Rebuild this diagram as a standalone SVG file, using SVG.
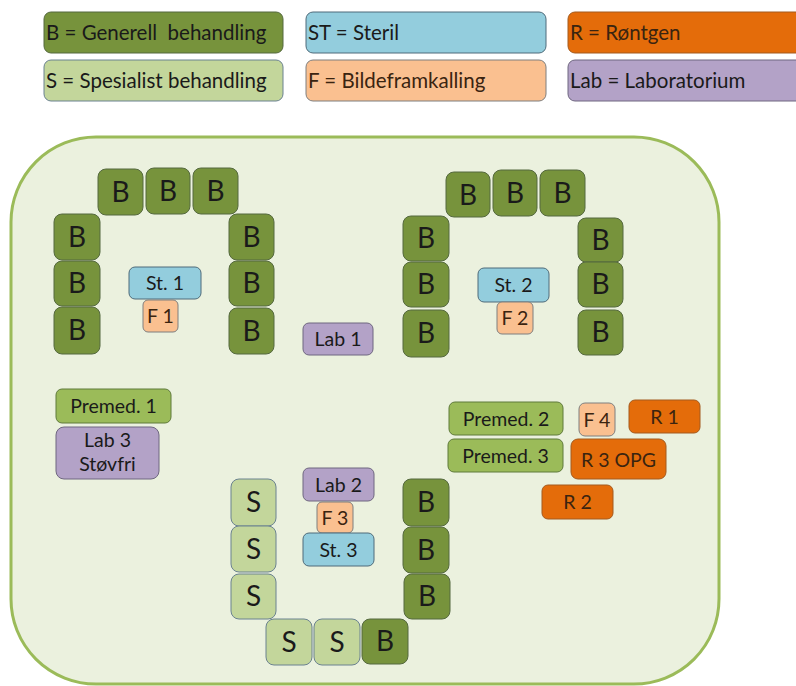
<svg xmlns="http://www.w3.org/2000/svg" width="796" height="686" viewBox="0 0 796 686">
<style>
  text { font-family: Lato, "Open Sans", "Liberation Sans", sans-serif; fill: #1a1a1a; }
  .lg { font-size: 20.5px; }
  .big { font-size: 28px; text-anchor: middle; }
  .sm { font-size: 19.5px; text-anchor: middle; }
  .br { fill: #3a2410; }
  .b { fill: #77933C; stroke: #55693f; stroke-width: 1; }
  .s { fill: #C3D69B; stroke: #6b8290; stroke-width: 1; }
  .st { fill: #93CDDD; stroke: #4f6b7a; stroke-width: 1; }
  .f { fill: #FAC090; stroke: #7f7f7f; stroke-width: 1; }
  .r { fill: #E46C0A; stroke: #a35a1e; stroke-width: 1; }
  .lab { fill: #B3A2C7; stroke: #6f6780; stroke-width: 1; }
  .pm { fill: #9BBB59; stroke: #5f7a3a; stroke-width: 1; }
</style>
<rect x="0" y="0" width="796" height="686" fill="#ffffff"/>

<g id="legend">
  <g id="leg-b"><rect class="b" x="44" y="12" width="239" height="41" rx="7"/><text class="lg" x="46" y="40" xml:space="preserve">B = Generell  behandling</text></g>
  <g id="leg-s"><rect class="s" x="44" y="60" width="239" height="41" rx="7"/><text class="lg" x="46" y="88">S = Spesialist behandling</text></g>
  <g id="leg-st"><rect class="st" x="306" y="12" width="240" height="41" rx="7"/><text class="lg" x="308" y="40">ST = Steril</text></g>
  <g id="leg-f"><rect class="f" x="306" y="60" width="240" height="41" rx="7"/><text class="lg br" x="308" y="88">F = Bildeframkalling</text></g>
  <g id="leg-r"><rect class="r" x="568" y="12" width="240" height="41" rx="7"/><text class="lg br" x="570" y="40">R = Røntgen</text></g>
  <g id="leg-lab"><rect class="lab" x="568" y="60" width="240" height="41" rx="7"/><text class="lg" x="570" y="88">Lab = Laboratorium</text></g>
</g>

<g id="room">
  <rect x="11" y="137" width="708" height="547" rx="85" ry="85" fill="#EBF1DE" stroke="#9BBB59" stroke-width="3"/>
</g>

<g id="cluster1">
  <g id="b1"><rect class="b" x="98" y="169" width="45" height="46" rx="8"/><text class="big" x="120.5" y="202">B</text></g>
  <g id="b2"><rect class="b" x="146" y="168" width="44" height="46" rx="8"/><text class="big" x="168" y="201">B</text></g>
  <g id="b3"><rect class="b" x="193" y="168" width="45" height="46" rx="8"/><text class="big" x="215.5" y="201">B</text></g>
  <g id="b4"><rect class="b" x="54" y="214" width="46" height="46" rx="8"/><text class="big" x="77" y="247">B</text></g>
  <g id="b5"><rect class="b" x="54" y="261" width="46" height="45" rx="8"/><text class="big" x="77" y="293">B</text></g>
  <g id="b6"><rect class="b" x="54" y="307" width="46" height="47" rx="8"/><text class="big" x="77" y="340">B</text></g>
  <g id="b7"><rect class="b" x="229" y="214" width="45" height="46" rx="8"/><text class="big" x="251.5" y="247">B</text></g>
  <g id="b8"><rect class="b" x="229" y="261" width="45" height="45" rx="8"/><text class="big" x="251.5" y="293">B</text></g>
  <g id="b9"><rect class="b" x="229" y="308" width="45" height="46" rx="8"/><text class="big" x="251.5" y="341">B</text></g>
  <g id="st1"><rect class="st" x="129" y="267" width="72" height="32" rx="6"/><text class="sm" x="165" y="290">St. 1</text></g>
  <g id="f1"><rect class="f" x="143" y="300" width="35" height="32" rx="5"/><text class="sm br" x="160.5" y="323">F 1</text></g>
</g>

<g id="lab1"><rect class="lab" x="303" y="323" width="70" height="32" rx="6"/><text class="sm" x="338" y="346">Lab 1</text></g>

<g id="cluster2">
  <g id="b10"><rect class="b" x="446" y="172" width="44" height="45" rx="8"/><text class="big" x="468" y="205">B</text></g>
  <g id="b11"><rect class="b" x="493" y="170" width="44" height="46" rx="8"/><text class="big" x="515" y="203">B</text></g>
  <g id="b12"><rect class="b" x="540" y="170" width="45" height="46" rx="8"/><text class="big" x="562.5" y="203">B</text></g>
  <g id="b13"><rect class="b" x="403" y="216" width="46" height="45" rx="8"/><text class="big" x="426" y="248">B</text></g>
  <g id="b14"><rect class="b" x="403" y="262" width="46" height="45" rx="8"/><text class="big" x="426" y="294">B</text></g>
  <g id="b15"><rect class="b" x="403" y="310" width="46" height="47" rx="8"/><text class="big" x="426" y="343">B</text></g>
  <g id="b16"><rect class="b" x="578" y="218" width="45" height="44" rx="8"/><text class="big" x="600.5" y="250">B</text></g>
  <g id="b17"><rect class="b" x="578" y="262" width="45" height="45" rx="8"/><text class="big" x="600.5" y="294">B</text></g>
  <g id="b18"><rect class="b" x="578" y="310" width="45" height="45" rx="8"/><text class="big" x="600.5" y="342">B</text></g>
  <g id="st2"><rect class="st" x="478" y="268" width="71" height="34" rx="6"/><text class="sm" x="513.5" y="292">St. 2</text></g>
  <g id="f2"><rect class="f" x="497" y="302" width="36" height="32" rx="5"/><text class="sm br" x="515" y="325">F 2</text></g>
</g>

<g id="premed1"><rect class="pm" x="56" y="389" width="115" height="34" rx="6"/><text class="sm" x="113.5" y="413">Premed. 1</text></g>
<g id="lab3"><rect class="lab" x="56" y="427" width="103" height="52" rx="8"/><text class="sm" x="107.5" y="447">Lab 3</text><text class="sm" x="107.5" y="471">Støvfri</text></g>

<g id="cluster3">
  <g id="s1"><rect class="s" x="231" y="479" width="45" height="47" rx="8"/><text class="big" x="253.5" y="512">S</text></g>
  <g id="s2"><rect class="s" x="231" y="526" width="45" height="46" rx="8"/><text class="big" x="253.5" y="559">S</text></g>
  <g id="s3"><rect class="s" x="231" y="574" width="45" height="45" rx="8"/><text class="big" x="253.5" y="606">S</text></g>
  <g id="s4"><rect class="s" x="266" y="619" width="46" height="46" rx="8"/><text class="big" x="289" y="652">S</text></g>
  <g id="s5"><rect class="s" x="314" y="619" width="46" height="46" rx="8"/><text class="big" x="337" y="652">S</text></g>
  <g id="b19"><rect class="b" x="362" y="619" width="46" height="45" rx="8"/><text class="big" x="385" y="651">B</text></g>
  <g id="b20"><rect class="b" x="403" y="479" width="46" height="47" rx="8"/><text class="big" x="426" y="512">B</text></g>
  <g id="b21"><rect class="b" x="403" y="527" width="46" height="46" rx="8"/><text class="big" x="426" y="560">B</text></g>
  <g id="b22"><rect class="b" x="404" y="574" width="46" height="45" rx="8"/><text class="big" x="427" y="606">B</text></g>
  <g id="lab2"><rect class="lab" x="303" y="468" width="71" height="33" rx="6"/><text class="sm" x="338.5" y="492">Lab 2</text></g>
  <g id="f3"><rect class="f" x="317" y="502" width="36" height="31" rx="5"/><text class="sm br" x="335" y="525">F 3</text></g>
  <g id="st3"><rect class="st" x="303" y="533" width="71" height="33" rx="6"/><text class="sm" x="338.5" y="557">St. 3</text></g>
</g>

<g id="premed2"><rect class="pm" x="449" y="402" width="114" height="33" rx="6"/><text class="sm" x="506" y="426">Premed. 2</text></g>
<g id="premed3"><rect class="pm" x="448" y="439" width="115" height="33" rx="6"/><text class="sm" x="505.5" y="463">Premed. 3</text></g>
<g id="f4"><rect class="f" x="579" y="403" width="36" height="33" rx="6"/><text class="sm br" x="597" y="427">F 4</text></g>
<g id="r1"><rect class="r" x="629" y="400" width="71" height="33" rx="6"/><text class="sm br" x="664.5" y="424">R 1</text></g>
<g id="r3"><rect class="r" x="571" y="439" width="95" height="40" rx="7"/><text class="sm br" x="618.5" y="467">R 3 OPG</text></g>
<g id="r2"><rect class="r" x="542" y="485" width="71" height="34" rx="6"/><text class="sm br" x="577.5" y="509">R 2</text></g>
</svg>
